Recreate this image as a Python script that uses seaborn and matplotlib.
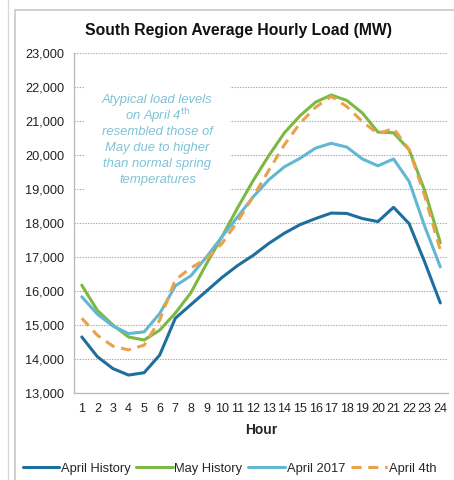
import matplotlib
matplotlib.use("Agg")
import matplotlib.pyplot as plt
from matplotlib.lines import Line2D
from matplotlib.patches import Rectangle
from matplotlib.ticker import FuncFormatter, MultipleLocator
import numpy as np
import pandas as pd
import seaborn as sns

# Average hourly load (MW) for the South region
hours = list(range(1, 25))
april_history = [14650, 14070, 13720, 13530, 13600, 14120, 15200, 15600, 16000, 16400,
                 16750, 17050, 17400, 17700, 17950, 18130, 18290, 18280, 18130, 18040,
                 18460, 17980, 16850, 15650]
may_history = [16170, 15430, 15000, 14650, 14560, 14850, 15350, 15950, 16800, 17600,
               18450, 19250, 19980, 20650, 21150, 21550, 21760, 21600, 21230, 20670,
               20650, 20150, 18950, 17420]
april_2017 = [15830, 15320, 14970, 14750, 14800, 15340, 16150, 16450, 17000, 17600,
              18180, 18770, 19270, 19650, 19900, 20200, 20340, 20230, 19880, 19680,
              19880, 19220, 17900, 16710]
april_4th = [15200, 14700, 14380, 14270, 14410, 15150, 16330, 16680, 16950, 17400,
             18050, 18780, 19550, 20300, 20930, 21400, 21720, 21420, 20980, 20620,
             20780, 20150, 18800, 17200]

series_names = ["April History", "May History", "April 2017", "April 4th"]
series_values = [april_history, may_history, april_2017, april_4th]

df = pd.DataFrame({
    "Hour": np.tile(hours, len(series_names)),
    "Load": np.concatenate(series_values),
    "Series": np.repeat(series_names, len(hours)),
})

palette = {
    "April History": "#1f6f9e",
    "May History": "#7cb843",
    "April 2017": "#62b7d3",
    "April 4th": "#e9a14b",
}
dashes = {
    "April History": "",
    "May History": "",
    "April 2017": "",
    "April 4th": (3.3, 2.2),
}

sns.set_style("white")
plt.rcParams["font.family"] = ["Liberation Sans", "DejaVu Sans"]

fig = plt.figure(figsize=(4.54, 4.8), dpi=100)
ax = fig.add_axes([0.163, 0.181, 0.824, 0.709])

sns.lineplot(data=df, x="Hour", y="Load", hue="Series", style="Series",
             palette=palette, dashes=dashes, hue_order=series_names,
             style_order=series_names, linewidth=2.2, ax=ax, legend=False,
             zorder=3)

ax.set_xlim(0.5, 24.5)
ax.set_ylim(13000, 23000)
ax.yaxis.set_major_locator(MultipleLocator(1000))
ax.yaxis.set_major_formatter(FuncFormatter(lambda v, p: f"{int(v):,}"))
ax.set_xticks(hours)
ax.set_xticklabels([str(h) for h in hours], fontsize=9, color="#222222")
ax.set_xticks(np.arange(0.5, 25, 1), minor=True)
ax.tick_params(axis="x", which="major", length=0, pad=7)
ax.tick_params(axis="x", which="minor", length=3, color="#b0b0b0", width=0.8,
               direction="out")
ax.tick_params(axis="y", which="major", length=4, color="#b0b0b0", width=0.8,
               labelsize=9.2, labelcolor="#222222", pad=3)

ax.grid(axis="y", color="#a8a8a8", linestyle=(0, (1.2, 1.2)), linewidth=0.8,
        zorder=0)
ax.set_axisbelow(True)
for side in ["top", "right"]:
    ax.spines[side].set_visible(False)
for side in ["left", "bottom"]:
    ax.spines[side].set_color("#b8b8b8")
    ax.spines[side].set_linewidth(0.9)

ax.set_xlabel("Hour", fontsize=10, fontweight="bold", labelpad=6)
ax.set_ylabel("")
fig.text(0.525, 0.937, "South Region Average Hourly Load (MW)", ha="center",
         va="center", fontsize=11.3, fontweight="bold", color="#111111")

# white panel behind the note, hiding the gridlines there
ax.add_patch(Rectangle((1.2, 18900), 9.3, 3200, facecolor="white",
                       edgecolor="none", zorder=1))
note_lines = ["Atypical load levels", "on April 4$^{\\mathrm{th}}$",
              "resembled those of", "May due to higher",
              "than normal spring", "temperatures"]
note_y = [21620, 21170, 20680, 20210, 19740, 19270]
for line, y in zip(note_lines, note_y):
    ax.text(5.85, y, line, ha="center", va="center", fontsize=9.4,
            style="italic", color="#7fc3d6", zorder=2)

handles = [Line2D([0], [0], color=palette[n], lw=2.2,
                  linestyle=(0, dashes[n]) if dashes[n] else "-")
           for n in series_names]
fig.legend(handles, series_names, loc="center left",
           bbox_to_anchor=(0.05, 0.024), ncol=4, frameon=False,
           fontsize=9.3, handlelength=2.8, handletextpad=0.15,
           columnspacing=0.45, borderaxespad=0, borderpad=0)

# surrounding panel frame
frame_color = "#c8c8c8"
fig.add_artist(Line2D([15 / 454, 15 / 454], [0, 1 - 10 / 480],
                      transform=fig.transFigure, color=frame_color, lw=1.2))
fig.add_artist(Line2D([15 / 454, 1], [1 - 10 / 480, 1 - 10 / 480],
                      transform=fig.transFigure, color=frame_color, lw=1.2))
fig.add_artist(Line2D([8 / 454, 8 / 454], [0, 1],
                      transform=fig.transFigure, color="#d8d8d8", lw=1.0))

fig.savefig("out.png", dpi=100)
